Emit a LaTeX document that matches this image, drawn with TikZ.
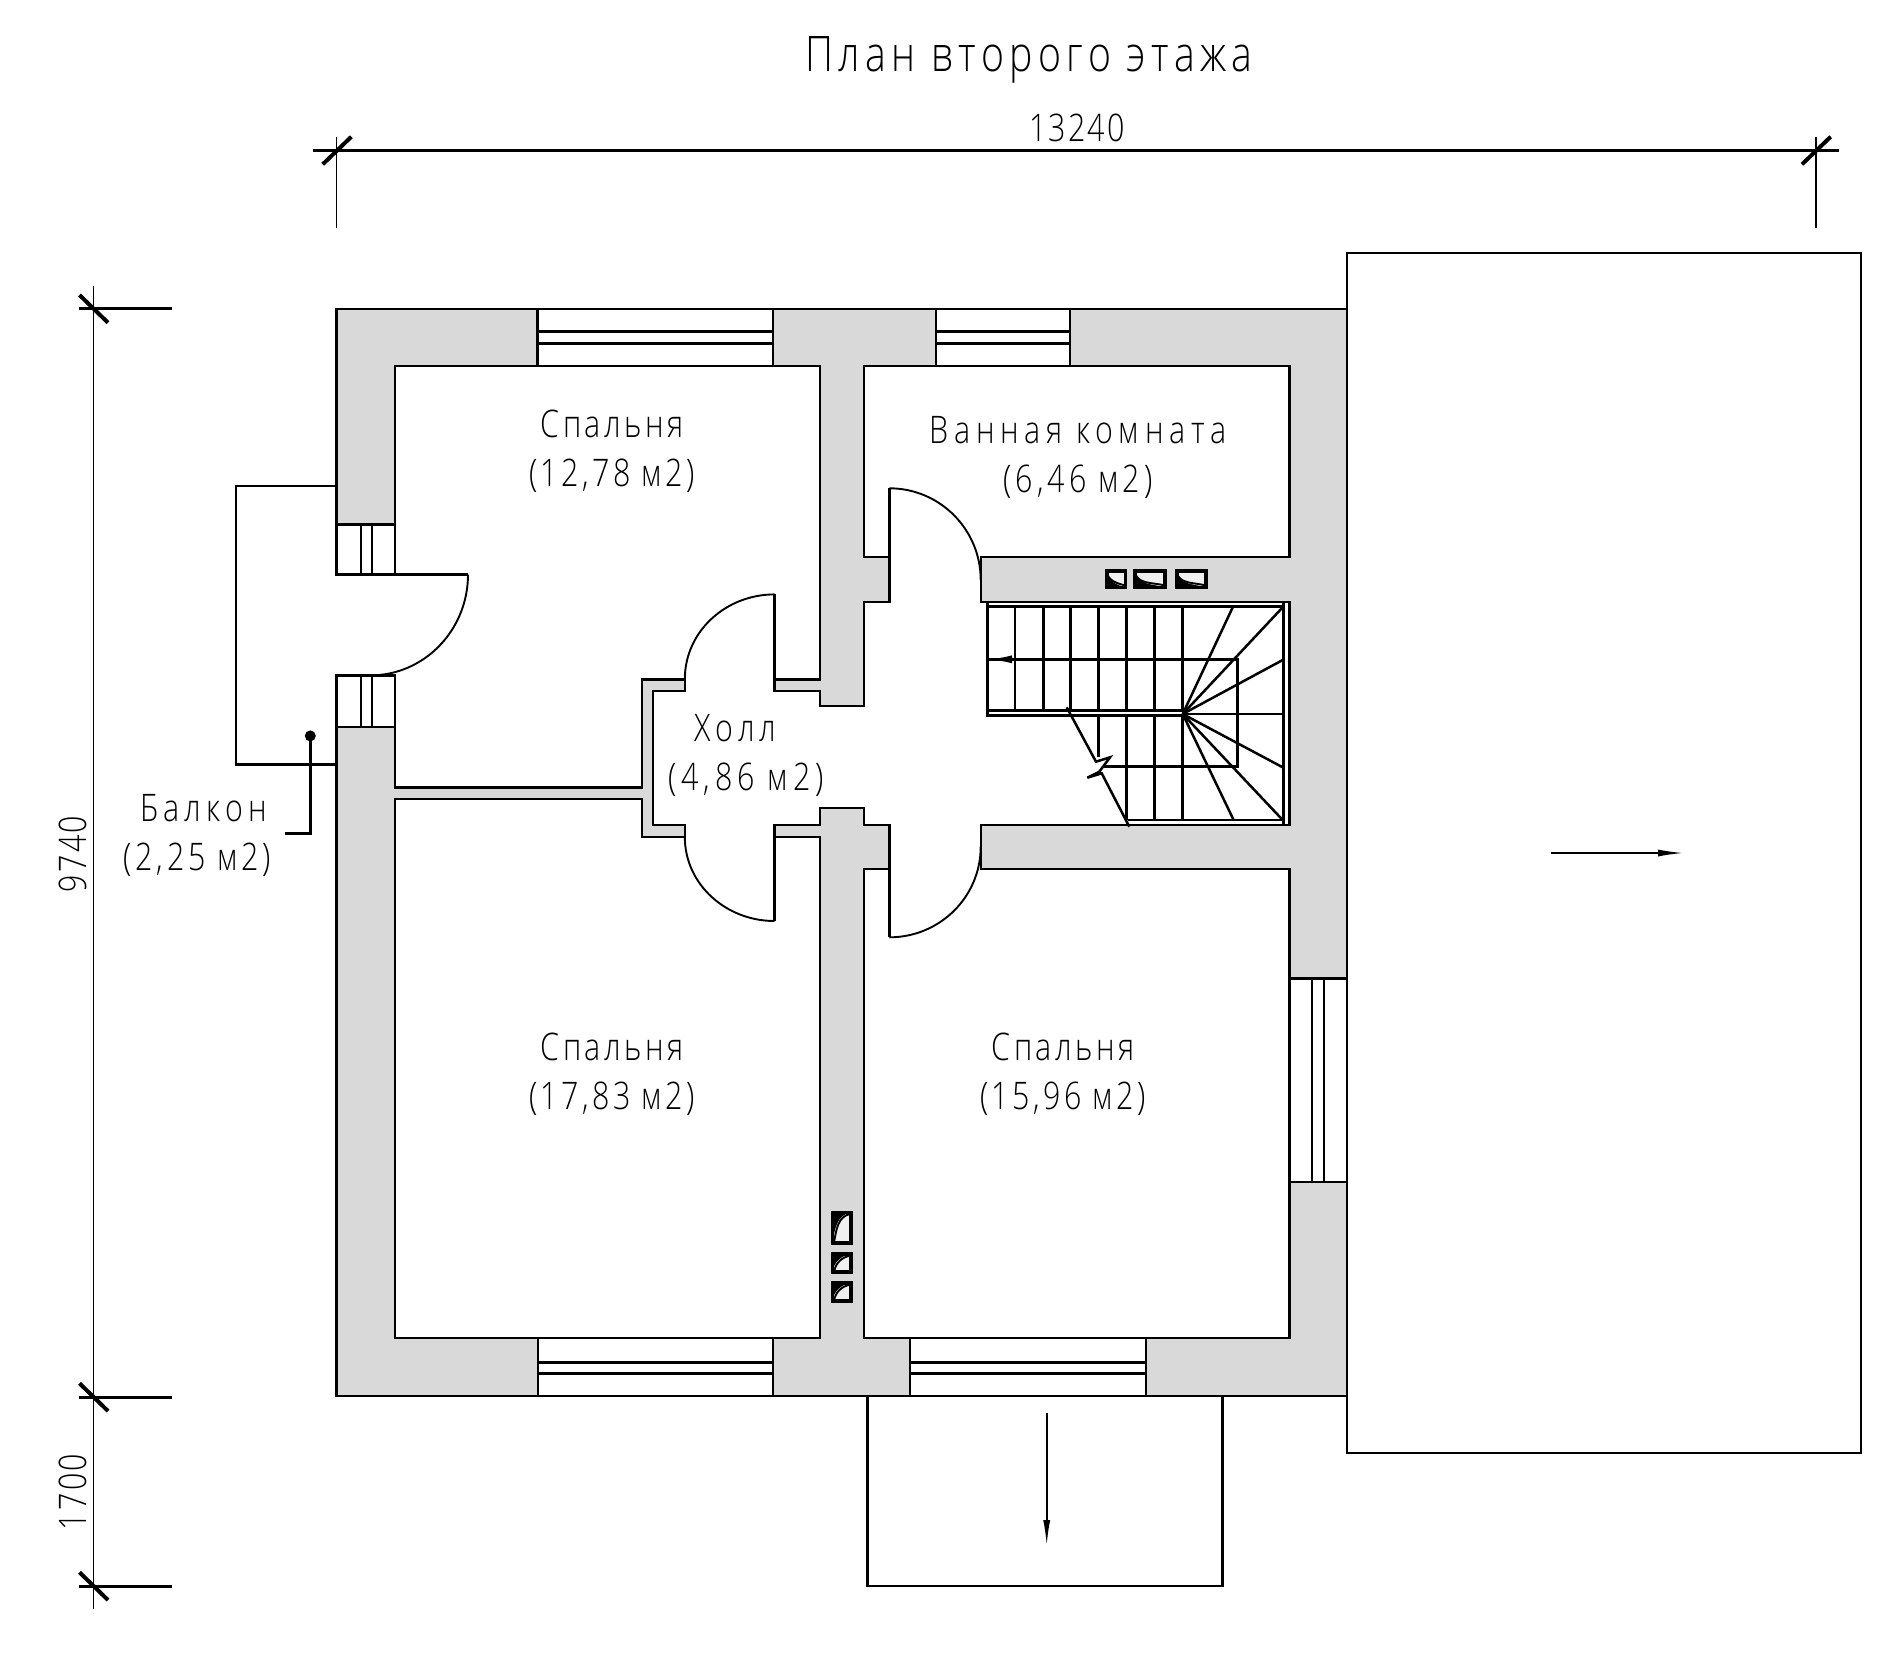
\documentclass[tikz,border=0pt]{standalone}
\usepackage{fontspec}
\setmainfont{Open Sans Light}[FakeStretch=0.8,LetterSpace=6]
\usetikzlibrary{arrows.meta}
\definecolor{wallgray}{HTML}{D9D9D9}
\newcommand{\ls}[2]{{\addfontfeature{LetterSpace=#1}#2}}
\tikzstyle{wall}=[black, line width=2.4, line join=miter]
\tikzstyle{swing}=[black, line width=1.9]
\tikzstyle{stair}=[black, line width=2.5]
\tikzstyle{thinline}=[black, line width=1.8]
\tikzstyle{tickline}=[black, line width=4]
\tikzstyle{dimline}=[black, line width=3]
\tikzstyle{flue}=[black, line width=3.6, fill=wallgray!40]
\tikzstyle{room}=[align=center, inner sep=0pt, font=\fontsize{38}{49}\selectfont\addfontfeature{LetterSpace=9}]
\tikzstyle{dimtext}=[inner sep=0pt, font=\fontsize{38}{46}\selectfont]
\begin{document}
\begin{tikzpicture}[x=1pt, y=-1pt]
        \useasboundingbox (0,0) rectangle (1900,1679);
        % paredes
        \fill[wallgray] (336.5,309) rectangle (1346.7,1396);
        \draw[wall, fill=white] (395,366) -- (820,366) -- (820,679.4) -- (774.5,679.4) -- (774.5,691) -- (820,691)
            -- (820,706) -- (864,706) -- (864,601.7) -- (889.5,601.7) -- (889.5,556.7) -- (864,556.7) -- (864,366)
            -- (1289.3,366) -- (1289.3,556.7) -- (980.7,556.7) -- (980.7,601.7) -- (1289.3,601.7) -- (1289.3,825)
            -- (980.7,825) -- (980.7,869) -- (1289.3,869) -- (1289.3,1338) -- (864,1338) -- (864,869) -- (889.5,869)
            -- (889.5,825) -- (864,825) -- (864,808) -- (820,808) -- (820,825) -- (774.5,825) -- (774.5,836.7)
            -- (820,836.7) -- (820,1338) -- (395,1338) -- (395,799) -- (642,799) -- (642,836.7) -- (684.8,836.7)
            -- (684.8,825) -- (652.7,825) -- (652.7,691) -- (684.8,691) -- (684.8,679.4) -- (642,679.4) -- (642,787.3)
            -- (395,787.3) -- cycle;
        \draw[wall] (336.5,524.4) -- (336.5,309) -- (1346.7,309) -- (1346.7,1396) -- (336.5,1396) -- (336.5,726.8);

        % ventanas
        \draw[wall, fill=white] (537.5,309) rectangle (773,366);
        \draw[wall] (537.5,331.4) -- (773,331.4) (537.5,343.3) -- (773,343.3);
        \draw[wall, fill=white] (936,309) rectangle (1070,366);
        \draw[wall] (936,331.4) -- (1070,331.4) (936,343.5) -- (1070,343.5);
        \draw[wall, fill=white] (538,1338) rectangle (773,1396);
        \draw[wall] (538,1362.3) -- (773,1362.3) (538,1373.3) -- (773,1373.3);
        \draw[wall, fill=white] (910,1338) rectangle (1145.7,1396);
        \draw[wall] (910,1362.3) -- (1145.7,1362.3) (910,1373.3) -- (1145.7,1373.3);
        \draw[wall, fill=white] (1289.3,978.5) rectangle (1346.7,1181.7);
        \draw[wall] (1312.2,978.5) -- (1312.2,1181.7) (1324,978.5) -- (1324,1181.7);

        % balcón y puerta
        \fill[white] (330,575.9) rectangle (398,674);
        \draw[wall, fill=white] (336.5,524.4) rectangle (395,574.6);
        \draw[wall] (360.7,524.4) -- (360.7,574.6) (371.9,524.4) -- (371.9,574.6);
        \draw[wall, fill=white] (336.5,675.4) rectangle (395,726.8);
        \draw[wall] (360.7,675.4) -- (360.7,726.8) (371.9,675.4) -- (371.9,726.8);
        \draw[wall] (336.5,486) -- (235.7,486) -- (235.7,764.4) -- (336.5,764.4);
        \draw[wall] (336.5,574.6) -- (468,574.6);
        \draw[swing] (468,574.6) to[out=270, in=0] (370,675.4);

        % puertas
        \draw[wall] (774.5,679.4) -- (774.5,594.4);
        \draw[swing] (774.5,594.4) to[out=180, in=90] (684.8,679.4);
        \draw[wall] (774.5,836.7) -- (774.5,921);
        \draw[swing] (774.5,921) to[out=180, in=270] (684.8,836.7);
        \draw[wall] (889.4,556.7) -- (889.4,488.3);
        \draw[swing] (889.4,488.3) to[out=0, in=90] (980.7,580);
        \draw[wall] (889.4,869) -- (889.4,937.3);
        \draw[swing] (889.4,937.3) to[out=0, in=270] (980.7,846.7);

        % conductos
        \foreach \xa/\xb in {1106.7/1125.3,1135/1165,1176.7/1206}{
            \draw[flue] (\xa,570.7) rectangle (\xb,587.3);
            \fill (\xa,572) to[out=-80, in=165] (\xb,587.3) -- (\xa,587.3) -- cycle;
            \draw[swing] (\xa,572) to[out=-80, in=165] (\xb,585.5);
        }
        \foreach \ya/\yb in {1212.3/1242.7,1254/1272,1283/1300.7}{
            \draw[flue] (832.3,\ya) rectangle (850.7,\yb);
            \fill (850.7,\ya) to[out=190, in=80] (832.3,\yb) -- (832.3,\ya) -- cycle;
            \draw[swing] (850.7,\ya+1.5) to[out=190, in=80] (834,\yb);
        }

        % escalera
        \draw[stair] (987.3,606.7) -- (1283.3,606.7) -- (1283.3,820) -- (1128,820);
        \draw[stair] (987.3,601.7) -- (987.3,715.7) -- (1182.7,715.7) (987.3,710.7) -- (1182.7,710.7);
        \draw[stair] (1283.3,601.7) -- (1283.3,825);
        \foreach \xstep in {1015,1043.3,1070.7,1098.7,1126.7,1154.7,1182.7}
            \draw[stair] (\xstep,606.7) -- (\xstep,710.7);
        \draw[stair] (1098.7,715.7) -- (1098.7,757);
        \foreach \xstep in {1126.7,1154.7,1182.7}
            \draw[stair] (\xstep,715.7) -- (\xstep,820);
        \draw[stair] (987.3,659.3) -- (1237.7,659.3) -- (1237.7,766.7) -- (1103,766.7);
        \foreach \xend/\yend in {1232.7/607.3,1282.7/607.3,1282.7/660,1282.7/714,1282.7/767.3,1282.7/820,1233.3/819.3}
            \draw[stair] (1182.7,714) -- (\xend,\yend);
        \draw[stair] (1066.7,707.3) -- (1096,761.7) -- (1110,757.3) -- (1099,772) -- (1087.3,777.7) -- (1101.7,773.3) -- (1129.3,826.7);
        \draw[stair, -{Latex[length=24, width=8]}] (1050,659.3) -- (988,659.3);

        % terrazas
        \draw[wall] (1346.8,253) rectangle (1860.8,1453);
        \draw[thinline, -{Latex[length=26, width=7]}] (1551,853) -- (1684,853);
        \draw[wall] (867.5,1396) -- (867.5,1586) -- (1222.6,1586) -- (1222.6,1396);
        \draw[thinline, -{Latex[length=26, width=7]}] (1046.7,1413.3) -- (1046.7,1546);

        % cotas
        \draw[dimline] (313,150.3) -- (1839,150.3);
        \draw[thinline] (336.5,136.7) -- (336.5,227.7);
        \draw[thinline] (1816,136.7) -- (1816,227.7);
        \draw[tickline] (322.7,164.3) -- (351.4,136.7);
        \draw[tickline] (1802,164.3) -- (1830.7,136.7);
        \draw[thinline] (93.5,286) -- (93.5,1609);
        \foreach \ydim in {308.7,1397,1586}{
            \draw[dimline] (79,\ydim) -- (171.5,\ydim);
            \draw[tickline] (79.5,\ydim-13.7) -- (108,\ydim+14);
        }

        % llamada
        \fill (310.3,735.9) circle (5.5);
        \draw[wall] (310.3,735.9) -- (310.3,833.6) -- (284.8,833.6);

        % textos
        \node[dimtext, font=\fontsize{49}{56}\selectfont\addfontfeature{LetterSpace=11}] (title) at (1029,60) {План второго этажа};
        \node[dimtext] (dimw) at (1077,128) {13240};
        \node[dimtext, rotate=90] (dimh) at (73,854) {9740};
        \node[dimtext, rotate=90] (dimb) at (73,1492) {1700};
        \node[room] (bed1) at (612,451.5) {Спальня\\(12,78 м2)};
        \node[room] (bath) at (1078,457.5) {\ls{15}{Ванная комната}\\\ls{10.5}{(6,46 м2)}};
        \node[room, anchor=base] (hallname) at (735.5,741) {\ls{13}{Холл}};
        \node[room, anchor=base] (hallarea) at (746,790) {\ls{13}{(4,86 м2)}};
        \node[room, anchor=base] (balcname) at (203.6,821) {\ls{14}{Балкон}};
        \node[room, anchor=base] (balcarea) at (197.5,870) {\ls{10}{(2,25 м2)}};
        \node[room] (bed2) at (612,1074.5) {Спальня\\(17,83 м2)};
        \node[room] (bed3) at (1063,1074.5) {Спальня\\(15,96 м2)};
    \end{tikzpicture}
\end{document}
